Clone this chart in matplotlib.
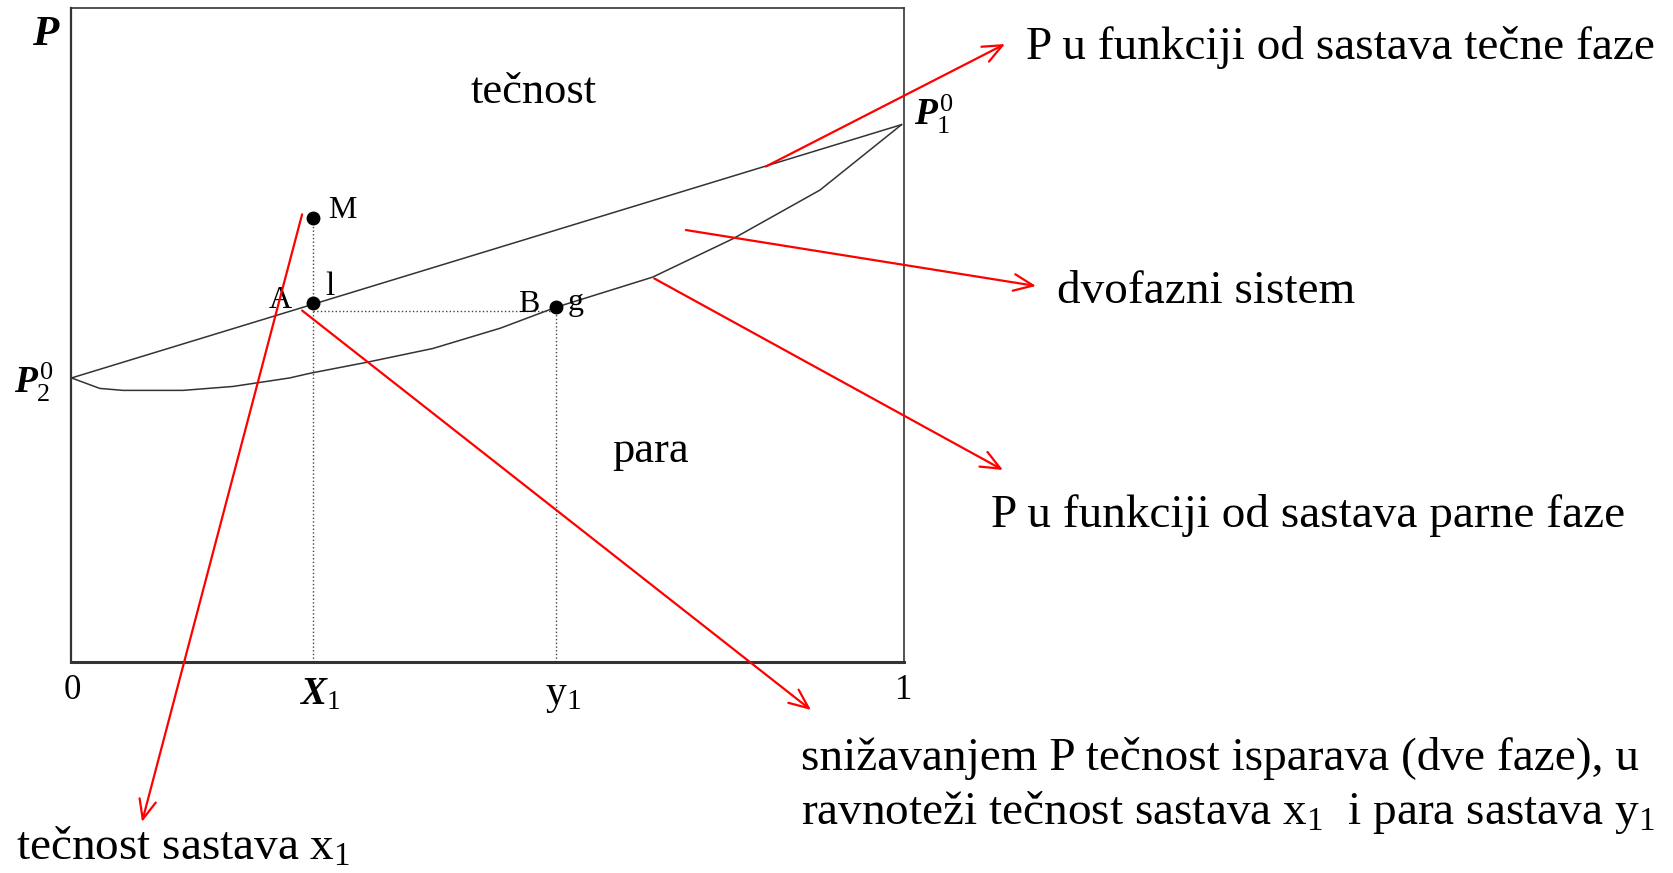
import matplotlib
matplotlib.use('Agg')
import matplotlib.pyplot as plt

plt.rcParams['font.family'] = ['Liberation Serif', 'DejaVu Serif']
plt.rcParams['mathtext.fontset'] = 'custom'
plt.rcParams['mathtext.rm'] = 'Liberation Serif'
plt.rcParams['mathtext.it'] = 'Liberation Serif:italic:bold'
plt.rcParams['mathtext.bf'] = 'Liberation Serif:bold'

# sastav (udio komponente 1) i relativni pritisak
x_tecnost = [0.0, 0.997]
p_tecnost = [0.434, 0.821]

x_para = [0.0, 0.034, 0.062, 0.134, 0.194, 0.262, 0.286, 0.355, 0.434,
          0.515, 0.582, 0.698, 0.795, 0.899, 0.997]
p_para = [0.434, 0.418, 0.415, 0.415, 0.421, 0.434, 0.441, 0.458, 0.479,
          0.510, 0.542, 0.588, 0.647, 0.721, 0.821]

tacke = ['M', 'l', 'g']
x_tacke = [0.290, 0.290, 0.582]
p_tacke = [0.678, 0.548, 0.542]

x1 = 0.290
y1 = 0.582
p_vezna = 0.537

W, H = 1674, 873


def px(x, y):
    # piksel (od gornjeg lijevog ugla) -> udio figure
    return (x / W, 1 - y / H)


fig = plt.figure(figsize=(W / 100, H / 100), dpi=100)
ax = fig.add_axes([71.5 / W, 1 - 662 / H, (904 - 71.5) / W, (662 - 7.5) / H])
ax.set_xlim(0, 1)
ax.set_ylim(0, 1)
ax.set_xticks([])
ax.set_yticks([])
for s in ax.spines.values():
    s.set_color('#333333')
    s.set_linewidth(1.2)
ax.spines['bottom'].set_linewidth(2.2)
ax.spines['left'].set_linewidth(1.6)

ax.plot(x_tecnost, p_tecnost, color='#333333', lw=1.1)
ax.plot(x_para, p_para, color='#333333', lw=1.1)
ax.plot([x1, x1], [0, p_tacke[0]], ':', color='#444444', lw=1)
ax.plot([y1, y1], [0, p_tacke[2]], ':', color='#444444', lw=1)
ax.plot([x1, y1], [p_vezna, p_vezna], ':', color='#444444', lw=1)
ax.plot(x_tacke, p_tacke, 'o', color='black', ms=9)

ax.annotate('M', (x_tacke[0], p_tacke[0]), xytext=(15, 0), textcoords='offset pixels',
            fontsize=23, va='baseline')
ax.annotate('l', (x_tacke[1], p_tacke[1]), xytext=(12, 8), textcoords='offset pixels',
            fontsize=24, va='baseline')
ax.annotate('A', (x_tacke[1], p_tacke[1]), xytext=(-21, -5), textcoords='offset pixels',
            fontsize=23, va='baseline', ha='right')
ax.annotate('B', (x_tacke[2], p_tacke[2]), xytext=(-17, -5), textcoords='offset pixels',
            fontsize=23, va='baseline', ha='right')
ax.annotate('g', (x_tacke[2], p_tacke[2]), xytext=(12, -3), textcoords='offset pixels',
            fontsize=23, va='baseline')

fig.text(*px(471, 103), 'tečnost', fontsize=32, va='baseline')
fig.text(*px(612, 462), 'para', fontsize=32, va='baseline')
fig.text(*px(64, 699), '0', fontsize=25, va='baseline')
fig.text(*px(895, 699), '1', fontsize=25, va='baseline')
fig.text(*px(300, 704), r'$X_1$', fontsize=28, va='baseline')
fig.text(*px(545, 704), r'$\mathrm{y}_1$', fontsize=30, va='baseline')
fig.text(*px(32, 45), 'P', fontsize=31, va='baseline', fontstyle='italic', fontweight='bold')
fig.text(*px(14, 393), r'$P_2^0$', fontsize=27, va='baseline')
fig.text(*px(914, 125), r'$P_1^0$', fontsize=27, va='baseline')

fig.text(*px(1026, 59), 'P u funkciji od sastava tečne faze', fontsize=34, va='baseline')
fig.text(*px(1057, 303), 'dvofazni sistem', fontsize=34, va='baseline')
fig.text(*px(991, 527), 'P u funkciji od sastava parne faze', fontsize=34, va='baseline')
fig.text(*px(801, 770), 'snižavanjem P tečnost isparava (dve faze), u', fontsize=34, va='baseline')
fig.text(*px(801, 824), r'ravnoteži tečnost sastava $\mathrm{x}_1$  i para sastava $\mathrm{y}_1$',
         fontsize=34, va='baseline')
fig.text(*px(16, 860), r'tečnost sastava $\mathrm{x}_1$', fontsize=34, va='baseline')

strelica = dict(arrowstyle='->,head_length=0.7,head_width=0.3', color='red', lw=1.6,
                shrinkA=0, shrinkB=0, mutation_scale=20)
ax.annotate('', xy=px(1005, 44), xycoords='figure fraction', xytext=(0.834, 0.757),
            textcoords='data', arrowprops=strelica)
ax.annotate('', xy=px(1036, 286), xycoords='figure fraction', xytext=(0.738, 0.660),
            textcoords='data', arrowprops=strelica)
ax.annotate('', xy=px(1003, 470), xycoords='figure fraction', xytext=(0.700, 0.586),
            textcoords='data', arrowprops=strelica)
ax.annotate('', xy=px(811, 710), xycoords='figure fraction', xytext=(0.277, 0.537),
            textcoords='data', arrowprops=strelica)
ax.annotate('', xy=px(142, 822), xycoords='figure fraction', xytext=(0.277, 0.684),
            textcoords='data', arrowprops=strelica)

fig.savefig('out.png', dpi=100)
